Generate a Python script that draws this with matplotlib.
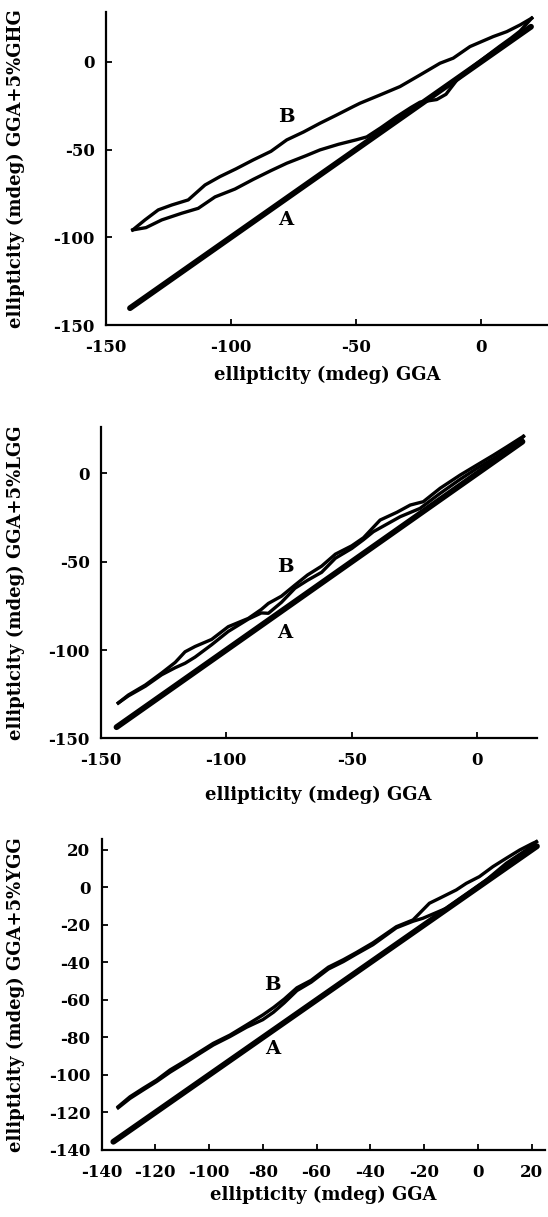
import matplotlib
matplotlib.use('agg')
import matplotlib.pyplot as plt

# panel 1: GGA vs GGA+5%GHG
p1_a_x = [-140.4, 20.0]
p1_a_y = [-140.4, 20.0]
p1_up_x = [-139.3, -134.4, -129.1, -123.7, -117.1, -110.4, -104.4, -98.0, -91.1, -84.0,
           -77.7, -71.0, -64.4, -58.0, -51.1, -48.4, -40.4, -32.4, -24.4, -16.4,
           -11.1, -4.4, 4.9, 10.3, 15.6, 20.3]
p1_up_y = [-95.8, -90.1, -84.4, -81.6, -78.7, -70.2, -65.4, -61.0, -55.9, -51.0,
           -44.5, -40.0, -35.0, -30.5, -25.5, -23.6, -18.9, -14.1, -7.5, -0.8,
           2.1, 8.7, 14.4, 17.2, 21.0, 24.9]
p1_lo_x = [-139.3, -134.0, -127.7, -119.7, -113.1, -106.4, -98.4, -91.1, -84.0, -77.7,
           -70.0, -64.4, -57.0, -50.0, -45.7, -40.0, -34.0, -28.0, -24.4, -20.0,
           -17.7, -14.0, -12.4, -9.7, -4.0, 2.0, 7.6, 12.0, 15.6, 20.3]
p1_lo_y = [-95.8, -94.5, -90.1, -86.3, -83.5, -77.0, -72.5, -67.0, -62.0, -57.8,
           -53.5, -50.2, -47.0, -44.5, -42.8, -37.5, -31.5, -26.0, -23.0, -22.0,
           -21.5, -18.5, -15.5, -10.5, -3.5, 3.0, 9.0, 13.5, 17.5, 24.9]

# panel 2: GGA vs GGA+5%LGG
p2_a_x = [-143.7, 18.0]
p2_a_y = [-143.7, 18.0]
p2_up_x = [-143.0, -139.0, -132.2, -125.7, -120.3, -116.4, -112.4, -105.8, -99.2, -91.2,
           -86.0, -83.2, -78.0, -72.6, -67.6, -62.0, -56.5, -50.0, -45.3, -38.7,
           -32.0, -26.7, -21.5, -14.8, -6.8, -0.1, 6.5, 11.8, 17.1, 18.4]
p2_up_y = [-130.0, -125.5, -119.8, -113.0, -107.0, -101.0, -98.0, -94.0, -86.8, -82.1,
           -77.0, -73.6, -69.5, -63.2, -57.5, -52.5, -45.7, -41.0, -36.4, -26.4,
           -22.0, -17.9, -16.0, -8.4, -0.9, 4.8, 10.4, 15.1, 19.9, 21.0]
p2_lo_x = [-143.0, -139.0, -132.2, -125.7, -120.3, -116.4, -112.4, -105.8, -99.2, -91.2,
           -86.0, -83.2, -78.0, -72.6, -67.6, -62.0, -56.5, -50.0, -45.3, -41.4,
           -30.7, -22.8, -15.0, -7.0, 0.0, 6.5, 12.0, 17.0, 18.4]
p2_lo_y = [-130.0, -126.0, -120.5, -114.0, -110.0, -107.5, -104.0, -97.0, -89.5, -82.5,
           -79.0, -79.2, -73.0, -65.0, -60.5, -56.0, -48.0, -42.5, -37.5, -33.0,
           -24.5, -19.8, -11.5, -3.5, 3.0, 8.5, 13.5, 18.5, 21.0]

# panel 3: GGA vs GGA+5%YGG
p3_a_x = [-135.6, 22.0]
p3_a_y = [-135.6, 22.0]
p3_up_x = [-133.8, -129.4, -124.5, -119.5, -114.5, -108.3, -103.4, -98.4, -92.2, -86.0,
           -80.0, -76.0, -72.0, -67.3, -62.0, -55.6, -50.0, -45.2, -39.0, -30.3,
           -24.1, -21.7, -18.0, -14.3, -8.0, -4.3, 0.6, 5.6, 10.6, 15.6, 20.5, 21.8]
p3_up_y = [-116.9, -111.6, -107.1, -102.7, -97.3, -92.0, -87.6, -83.1, -78.7, -73.3,
           -68.0, -64.0, -59.5, -53.5, -49.5, -42.5, -38.5, -34.7, -29.5, -20.9,
           -17.3, -13.8, -8.4, -5.8, -1.3, 2.2, 5.8, 11.1, 15.6, 20.0, 23.6, 24.4]
p3_lo_x = [-133.8, -129.4, -124.5, -119.5, -114.5, -108.3, -103.4, -98.4, -92.2, -86.0,
           -80.0, -76.0, -72.0, -67.3, -62.0, -55.6, -50.0, -45.2, -39.0, -30.3,
           -24.1, -20.4, -11.7, -1.9, 3.2, 10.6, 18.0, 21.8]
p3_lo_y = [-117.5, -112.5, -108.0, -103.5, -98.5, -93.0, -88.5, -84.0, -79.5, -74.5,
           -70.5, -66.5, -61.5, -55.0, -50.5, -43.5, -39.5, -35.5, -30.5, -21.5,
           -18.0, -16.4, -11.1, -1.3, 4.0, 12.9, 20.0, 24.4]

ylabels = ['ellipticity (mdeg) GGA+5%GHG',
           'ellipticity (mdeg) GGA+5%LGG',
           'ellipticity (mdeg) GGA+5%YGG']
xlabel = 'ellipticity (mdeg) GGA'

ticks_150 = [-150, -100, -50, 0]
ticks_140 = [-140, -120, -100, -80, -60, -40, -20, 0, 20]

# label positions for A and B (data coords)
p1_labels = {'B': (-77.7, -31.2), 'A': (-78.0, -90.0)}
p2_labels = {'B': (-76.6, -53.1), 'A': (-76.6, -90.3)}
p3_labels = {'B': (-76.4, -52.1), 'A': (-76.4, -86.2)}

W, H = 548, 1217
plt.rcParams['font.family'] = ['DejaVu Serif']
plt.rcParams['font.weight'] = 'bold'
plt.rcParams['axes.unicode_minus'] = False

fig = plt.figure(figsize=(W / 100, H / 100), dpi=100)


def make_axes(left, top, right, bottom):
    # pixel box -> figure fraction
    return fig.add_axes([left / W, 1 - bottom / H, (right - left) / W, (bottom - top) / H])


def draw_panel(ax, a, up, lo, labels, xlim, ylim, ticks, ylabel, ylab_px, xlab_px):
    ax.plot(a[0], a[1], color='black', lw=4.2, solid_capstyle='round')
    ax.plot(up[0], up[1], color='black', lw=2.4, solid_joinstyle='round')
    ax.plot(lo[0], lo[1], color='black', lw=2.4, solid_joinstyle='round')
    for name, (x, y) in labels.items():
        ax.text(x, y, name, fontsize=14, fontweight='bold', ha='center', va='center')

    ax.set_xlim(xlim)
    ax.set_ylim(ylim)
    ax.set_xticks(ticks)
    ax.set_yticks(ticks)
    for s in ['top', 'right']:
        ax.spines[s].set_visible(False)
    for s in ['left', 'bottom']:
        ax.spines[s].set_linewidth(1.6)
    ax.tick_params(direction='in', length=4, width=1.3, labelsize=12)
    ax.tick_params(axis='x', pad=10)
    ax.tick_params(axis='y', pad=8)

    ax.set_xlabel(xlabel, fontsize=13, fontweight='bold')
    ax.set_ylabel(ylabel, fontsize=13, fontweight='bold')
    bb = ax.get_position()
    ax_w = bb.width * W
    ax_h = bb.height * H
    ax.yaxis.set_label_coords(ylab_px / ax_w, 0.5)
    ax.yaxis.label.set_verticalalignment('center')
    ax.xaxis.set_label_coords(0.5, -xlab_px / ax_h)
    ax.xaxis.label.set_verticalalignment('center')


ax1 = make_axes(106, 12, 548, 325)
draw_panel(ax1, (p1_a_x, p1_a_y), (p1_up_x, p1_up_y), (p1_lo_x, p1_lo_y), p1_labels,
           (-150, 26.8), (-150, 28.4), ticks_150, ylabels[0], 15.7 - 106, 50)

ax2 = make_axes(100.7, 427, 536.5, 738.3)
draw_panel(ax2, (p2_a_x, p2_a_y), (p2_up_x, p2_up_y), (p2_lo_x, p2_lo_y), p2_labels,
           (-150, 23.6), (-150, 26.3), ticks_150, ylabels[1], 15.7 - 100.7, 57)

ax3 = make_axes(101.5, 839.3, 545, 1150)
draw_panel(ax3, (p3_a_x, p3_a_y), (p3_up_x, p3_up_y), (p3_lo_x, p3_lo_y), p3_labels,
           (-140, 25), (-140, 25.7), ticks_140, ylabels[2], 15.7 - 101.5, 45)

plt.savefig('out.png', dpi=100)
